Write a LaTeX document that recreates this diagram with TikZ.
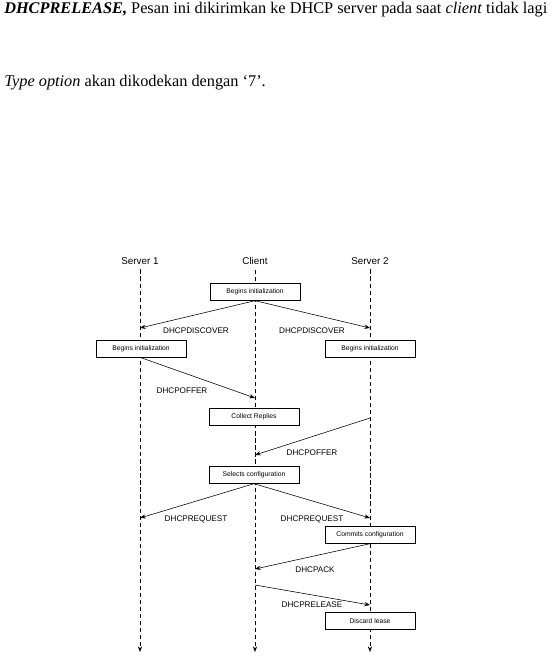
\documentclass[tikz,border=0pt]{standalone}
\usepackage{fontspec}
\setmainfont{Liberation Serif}
\newfontfamily\diagfont{Liberation Sans}
\usetikzlibrary{arrows.meta}

\begin{document}
\begin{tikzpicture}[
    x=0.025cm, y=-0.025cm,
    thin,
    actor/.style={font=\diagfont\fontsize{7}{8}\selectfont},
    task/.style={draw, rectangle, minimum width=2.25cm, minimum height=0.42cm, inner sep=1pt, fill=white, font=\diagfont\fontsize{4.8}{6}\selectfont},
    msg/.style={-{Stealth[length=4pt, width=3pt]}},
    msglabel/.style={font=\diagfont\fontsize{5.8}{7}\selectfont},
    life/.style={densely dashed, -{Stealth[length=4pt, width=3pt]}}
]
    \useasboundingbox (0,0) rectangle (556,658);

    % --- Text above the figure ---
    \node[anchor=west, inner sep=0pt, font=\fontsize{11.6}{13}\selectfont] (para1) at (4,10)
        {\textbf{\textit{DHCPRELEASE,}} Pesan ini dikirimkan ke DHCP server pada saat \textit{client} tidak lagi};
    \node[anchor=west, inner sep=0pt, font=\fontsize{11.6}{13}\selectfont] (para2) at (4,83)
        {\textit{Type option} akan dikodekan dengan `7'.};

    % --- Actors and lifelines ---
    \node[actor] (srv1) at (140,261) {Server 1};
    \node[actor] (cli) at (255,261) {Client};
    \node[actor] (srv2) at (370,261) {Server 2};

    \coordinate (srv1end) at (140,652);
    \coordinate (cliend) at (255,652);
    \coordinate (srv2end) at (370,652);

    \draw[life] (srv1) -- (srv1end);
    \draw[life] (cli) -- (cliend);
    \draw[life] (srv2) -- (srv2end);

    % --- Activity boxes ---
    \node[task] (cliinit) at (255,292) {Begins initialization};
    \node[task] (srv1init) at (141,349) {Begins initialization};
    \node[task] (srv2init) at (370,349) {Begins initialization};
    \node[task] (collect) at (254,417) {Collect Replies};
    \node[task] (select) at (254,475) {Selects configuration};
    \node[task] (commit) at (370,535) {Commits configuration};
    \node[task] (discard) at (370,621) {Discard lease};

    % --- Messages ---
    \coordinate (disc1) at (140,328);
    \coordinate (disc2) at (370,328);
    \draw[msg] (cliinit.south) -- (disc1);
    \draw[msg] (cliinit.south) -- (disc2);
    \node[msglabel] (disc1lbl) at (196,331) {DHCPDISCOVER};
    \node[msglabel] (disc2lbl) at (312,331) {DHCPDISCOVER};

    \coordinate (offer1) at (255,398);
    \draw[msg] (srv1init.south) -- (offer1);
    \node[msglabel] (offer1lbl) at (182,391) {DHCPOFFER};

    \coordinate (offer2start) at (370,418);
    \coordinate (offer2) at (255,455);
    \draw[msg] (offer2start) -- (offer2);
    \node[msglabel] (offer2lbl) at (312,453) {DHCPOFFER};

    \coordinate (req1) at (140,518);
    \coordinate (req2) at (370,518);
    \draw[msg] (select.south) -- (req1);
    \draw[msg] (select.south) -- (req2);
    \node[msglabel] (req1lbl) at (196,519) {DHCPREQUEST};
    \node[msglabel] (req2lbl) at (312,519) {DHCPREQUEST};

    \coordinate (ack) at (255,569);
    \draw[msg] (commit.south) -- (ack);
    \node[msglabel] (acklbl) at (315,570) {DHCPACK};

    \coordinate (relstart) at (255,585);
    \coordinate (rel) at (370,605);
    \draw[msg] (relstart) -- (rel);
    \node[msglabel] (rellbl) at (312,605) {DHCPRELEASE};
\end{tikzpicture}
\end{document}
